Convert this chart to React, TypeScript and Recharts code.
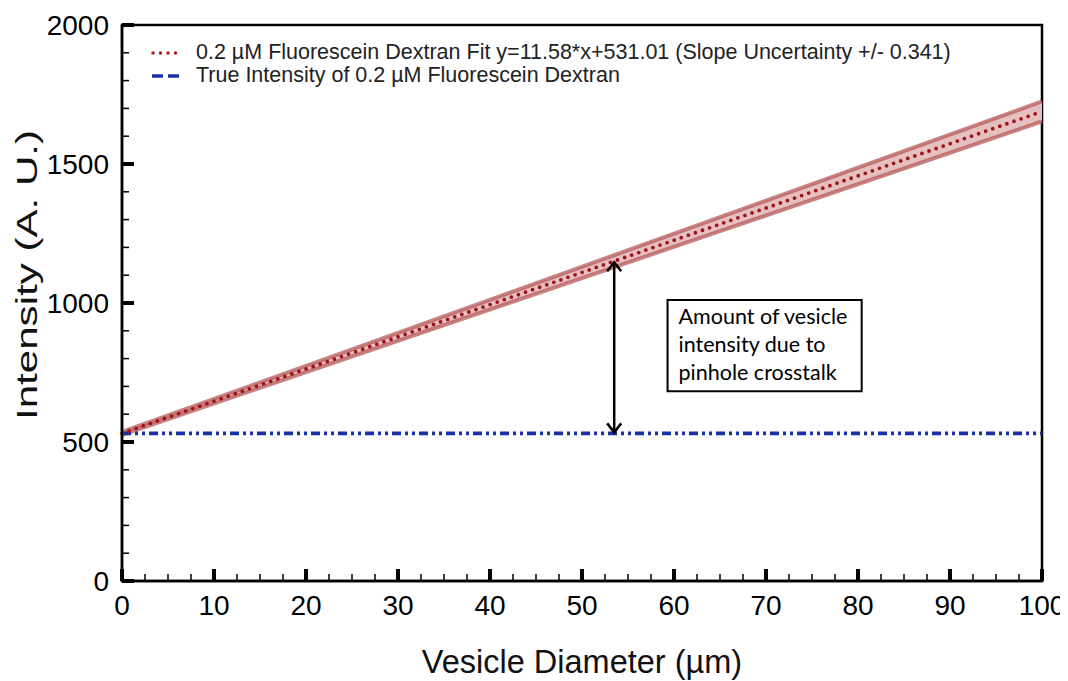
import React from "react";
import {
  ComposedChart,
  Line,
  Area,
  XAxis,
  YAxis,
  ReferenceLine,
  ReferenceArea,
  Legend,
  Label,
} from "recharts";

// values
const diameters = [0, 100];
const fitIntensity = [531.01, 1689.01];
const bandLow = [526, 1653];
const bandHigh = [536, 1725];
const trueIntensity = [531, 531];

const xTicks = [
  0, 2.5, 5, 7.5, 10, 12.5, 15, 17.5, 20, 22.5, 25, 27.5, 30, 32.5, 35, 37.5,
  40, 42.5, 45, 47.5, 50, 52.5, 55, 57.5, 60, 62.5, 65, 67.5, 70, 72.5, 75,
  77.5, 80, 82.5, 85, 87.5, 90, 92.5, 95, 97.5, 100,
];
const yTicks = [
  0, 100, 200, 300, 400, 500, 600, 700, 800, 900, 1000, 1100, 1200, 1300, 1400,
  1500, 1600, 1700, 1800, 1900, 2000,
];

const fitLabel =
  "0.2 µM Fluorescein Dextran Fit y=11.58*x+531.01 (Slope Uncertainty +/- 0.341)";
const trueLabel = "True Intensity of 0.2 µM Fluorescein Dextran";
const boxLines = ["Amount of vesicle", "intensity due to", "pinhole crosstalk"];

const arrowX = 53.5;
const arrowBottom = 531;
const arrowTop = 1150;

const data = diameters.map((d, i) => ({
  diameter: d,
  fit: fitIntensity[i],
  band: [bandLow[i], bandHigh[i]],
  trueI: trueIntensity[i],
}));

const FONT = "'Liberation Sans', Arial, Helvetica, sans-serif";

const XTick = (props: any) => {
  const { x, y, payload } = props;
  const major = payload.value % 10 === 0;
  return (
    <g>
      <line
        x1={x}
        x2={x}
        y1={y}
        y2={y - (major ? 12 : 7)}
        stroke="#000"
        strokeWidth={major ? 4 : 1.5}
      />
      {major && (
        <text
          x={x}
          y={y + 24}
          dy="0.35em"
          textAnchor="middle"
          fontSize={28}
          fontFamily={FONT}
          fill="#000"
        >
          {payload.value}
        </text>
      )}
    </g>
  );
};

const YTick = (props: any) => {
  const { x, y, payload } = props;
  const major = payload.value % 500 === 0;
  return (
    <g>
      <line
        x1={x}
        x2={x + (major ? 12 : 7)}
        y1={y}
        y2={y}
        stroke="#000"
        strokeWidth={major ? 4 : 1.5}
      />
      {major && (
        <text
          x={x - 13}
          y={y}
          dy="0.35em"
          textAnchor="end"
          fontSize={28}
          fontFamily={FONT}
          fill="#000"
        >
          {payload.value}
        </text>
      )}
    </g>
  );
};

const Arrow = (props: any) => {
  const { x1, y1, y2 } = props;
  const top = Math.min(y1, y2);
  const bottom = Math.max(y1, y2);
  return (
    <g stroke="#000" strokeWidth={2.5} fill="none">
      <line x1={x1} x2={x1} y1={top + 1} y2={bottom - 1} />
      <polyline points={`${x1 - 7},${top + 10} ${x1},${top + 1} ${x1 + 7},${top + 10}`} />
      <polyline
        points={`${x1 - 7},${bottom - 10} ${x1},${bottom - 1} ${x1 + 7},${bottom - 10}`}
      />
    </g>
  );
};

const BoxText = (props: any) => {
  const { viewBox } = props;
  return (
    <g>
      {boxLines.map((t, i) => (
        <text
          key={t}
          x={viewBox.x + 11}
          y={viewBox.y + 24 + i * 28}
          fontSize={21.5}
          fontFamily="Lato, 'Open Sans', sans-serif"
          fill="#000"
        >
          {t}
        </text>
      ))}
    </g>
  );
};

const renderLegend = () => (
  <div style={{ fontFamily: FONT, fontSize: 21.5, color: "#222", lineHeight: "23px" }}>
    <div style={{ display: "flex", alignItems: "center", whiteSpace: "nowrap" }}>
      <svg width={32} height={10} style={{ marginRight: 14 }}>
        <line
          x1={3}
          x2={30}
          y1={5}
          y2={5}
          stroke="#b3191c"
          strokeWidth={3.5}
          strokeLinecap="round"
          strokeDasharray="0 7.5"
        />
      </svg>
      {fitLabel}
    </div>
    <div style={{ display: "flex", alignItems: "center", whiteSpace: "nowrap" }}>
      <svg width={32} height={10} style={{ marginRight: 14 }}>
        <line
          x1={2}
          x2={31}
          y1={5}
          y2={5}
          stroke="#1b2fa6"
          strokeWidth={3.5}
          strokeDasharray="11 5"
        />
      </svg>
      {trueLabel}
    </div>
  </div>
);

export default function App() {
  return (
    <ComposedChart
      width={1060}
      height={673}
      data={data}
      margin={{ top: 17, right: 26, left: 0, bottom: 0 }}
    >
      <XAxis
        dataKey="diameter"
        type="number"
        domain={[0, 100]}
        ticks={xTicks}
        interval={0}
        tickSize={0}
        tickMargin={0}
        tickLine={false}
        height={100}
        axisLine={{ stroke: "#000", strokeWidth: 2.5 }}
        tick={<XTick />}
      >
        <Label
          content={(p: any) => (
            <text
              x={p.viewBox.x + p.viewBox.width / 2}
              y={654}
              textAnchor="middle"
              dy="0.35em"
              fontSize={32.5}
              fontFamily={FONT}
              fill="#111"
            >
              Vesicle Diameter (µm)
            </text>
          )}
        />
      </XAxis>
      <YAxis
        type="number"
        domain={[0, 2000]}
        ticks={yTicks}
        interval={0}
        tickSize={0}
        tickMargin={0}
        tickLine={false}
        width={114}
        axisLine={{ stroke: "#000", strokeWidth: 2.5 }}
        tick={<YTick />}
      >
        <Label
          content={() => (
            <text
              x={18}
              y={267}
              transform="rotate(-90 18 267)"
              textAnchor="middle"
              dy="0.35em"
              fontSize={30}
              fontFamily={FONT}
              fill="#111"
              textLength={290}
              lengthAdjust="spacingAndGlyphs"
            >
              Intensity (A. U.)
            </text>
          )}
        />
      </YAxis>
      <ReferenceArea
        x1={0}
        x2={100}
        y1={0}
        y2={2000}
        fill="none"
        stroke="#000"
        strokeWidth={2.5}
      />
      <Area
        dataKey="band"
        type="linear"
        fill="#e6c0c0"
        fillOpacity={1}
        stroke="#b55858"
        strokeOpacity={0.75}
        strokeWidth={4}
        isAnimationActive={false}
        legendType="none"
      />
      <Line
        dataKey="trueI"
        type="linear"
        stroke="#1b2fa6"
        strokeWidth={3.8}
        strokeDasharray="9 4 3 4 3 4"
        dot={false}
        isAnimationActive={false}
      />
      <Line
        dataKey="fit"
        type="linear"
        stroke="#a0121a"
        strokeWidth={3.8}
        strokeLinecap="round"
        strokeDasharray="0 7.5"
        dot={false}
        isAnimationActive={false}
      />
      <ReferenceLine
        segment={[
          { x: arrowX, y: arrowBottom },
          { x: arrowX, y: arrowTop },
        ]}
        shape={<Arrow />}
      />
      <ReferenceArea
        x1={59.3}
        x2={80.4}
        y1={683}
        y2={1011}
        fill="#fff"
        fillOpacity={1}
        stroke="#000"
        strokeWidth={2}
        label={<BoxText />}
      />
      <Legend
        layout="vertical"
        align="center"
        verticalAlign="middle"
        wrapperStyle={{ position: "absolute", left: 142, top: 33, width: "auto" }}
        content={renderLegend}
      />
    </ComposedChart>
  );
}
